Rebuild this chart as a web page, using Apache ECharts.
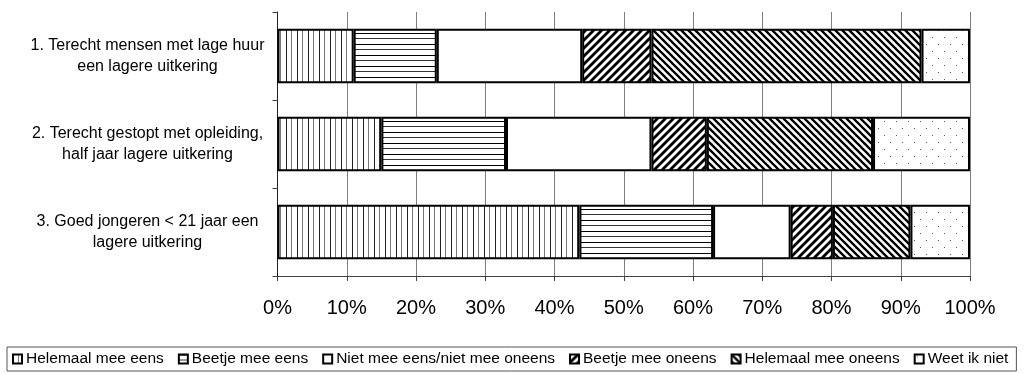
<!DOCTYPE html>
<html>
<head>
<meta charset="utf-8">
<script src="https://cdn.jsdelivr.net/npm/echarts@6/dist/echarts.min.js"></script>
<style>
    html, body {margin: 0; padding: 0; background: #fff;}
    #chart {width: 1029px; height: 374px;}
</style>
</head>
<body>
<div id="chart"></div>
<script>
'use strict';

var categories = [
    '1. Terecht mensen met lage huur\neen lagere uitkering',
    '2. Terecht gestopt met opleiding,\nhalf jaar lagere uitkering',
    '3. Goed jongeren < 21 jaar een\nlagere uitkering'
];
var seriesNames = ['Helemaal mee eens', 'Beetje mee eens', 'Niet mee eens/niet mee oneens',
    'Beetje mee oneens', 'Helemaal mee oneens', 'Weet ik niet'];
var helemaalEens = [11, 15, 43.6];
var beetjeEens = [12, 18, 19.3];
var neutraal = [21, 21, 11.2];
var beetjeOneens = [10, 8, 6.1];
var helemaalOneens = [39, 24, 11.2];
var weetNiet = [7, 14, 8.6];
var tickLabels = ['0%', '10%', '20%', '30%', '40%', '50%', '60%', '70%', '80%', '90%', '100%'];

// fill patterns, drawn on small canvases
function makePattern(kind) {
    var c = document.createElement('canvas');
    var ctx;
    var size = {vert: [11, 4], horiz: [4, 11], fwd: [8, 8], back: [7, 7], dots: [12, 14], blank: [4, 4]}[kind];
    c.width = size[0];
    c.height = size[1];
    ctx = c.getContext('2d');
    ctx.fillStyle = '#fff';
    ctx.fillRect(0, 0, c.width, c.height);
    ctx.strokeStyle = '#000';
    if (kind === 'vert') {
        ctx.fillStyle = '#222';
        ctx.fillRect(0, 0, 1, c.height);
        ctx.fillStyle = '#777';
        ctx.fillRect(5, 0, 1, c.height);
    } else if (kind === 'horiz') {
        ctx.fillStyle = '#000';
        ctx.fillRect(0, 0, c.width, 1);
        ctx.fillStyle = '#333';
        ctx.fillRect(0, 5, c.width, 1);
    } else if (kind === 'fwd' || kind === 'back') {
        var s = c.width;
        ctx.lineWidth = kind === 'fwd' ? 2.8 : 2.3;
        ctx.beginPath();
        if (kind === 'fwd') {
            ctx.moveTo(-1, 1); ctx.lineTo(1, -1);
            ctx.moveTo(0, s); ctx.lineTo(s, 0);
            ctx.moveTo(s - 1, s + 1); ctx.lineTo(s + 1, s - 1);
        } else {
            ctx.moveTo(-1, s - 1); ctx.lineTo(1, s + 1);
            ctx.moveTo(0, 0); ctx.lineTo(s, s);
            ctx.moveTo(s - 1, -1); ctx.lineTo(s + 1, 1);
        }
        ctx.stroke();
    } else if (kind === 'dots') {
        ctx.fillStyle = '#555';
        ctx.fillRect(2, 2, 1, 1);
        ctx.fillRect(8, 9, 1, 1);
    }
    return {image: c, repeat: 'repeat'};
}

var chart = echarts.init(document.getElementById('chart'), null, {renderer: 'canvas'});
var font = 'Liberation Sans, Arial, sans-serif';
var values = [helemaalEens, beetjeEens, neutraal, beetjeOneens, helemaalOneens, weetNiet];
var patterns = ['vert', 'horiz', 'blank', 'fwd', 'back', 'dots'];

var series = [];
for (var i = 0; i < seriesNames.length; i++) {
    series.push({
        name: seriesNames[i],
        type: 'bar',
        stack: 'total',
        barCategoryGap: '38%',
        data: values[i],
        itemStyle: {
            color: makePattern(patterns[i]),
            borderColor: '#000',
            borderWidth: 2
        }
    });
}

var option = {
    animation: false,
    backgroundColor: '#fff',
    textStyle: {fontFamily: font, color: '#000'},
    grid: {left: 277.5, right: 59, top: 12, bottom: 98, containLabel: false},
    legend: {
        data: seriesNames,
        top: 347,
        left: 7,
        icon: 'rect',
        itemWidth: 9,
        itemHeight: 9,
        itemGap: 14,
        padding: [4, 8, 4, 5],
        borderColor: '#555',
        borderWidth: 1,
        textStyle: {fontFamily: font, fontSize: 15.5, color: '#000', padding: [0, 0, 0, -1]}
    },
    xAxis: {
        type: 'value',
        min: 0,
        max: 100,
        interval: 10,
        axisLine: {show: true, lineStyle: {color: '#404040', width: 1}},
        axisTick: {show: true, length: 5, lineStyle: {color: '#404040'}},
        splitLine: {show: true, lineStyle: {color: '#808080', width: 1}},
        axisLabel: {
            margin: 22,
            fontSize: 20,
            fontFamily: font,
            color: '#000',
            formatter: function (v) {
                return tickLabels[Math.round(v / 10)];
            }
        }
    },
    yAxis: {
        type: 'category',
        inverse: true,
        data: categories,
        axisLine: {show: true, lineStyle: {color: '#202020', width: 1}},
        axisTick: {show: true, length: 5, lineStyle: {color: '#404040'}},
        splitLine: {show: false},
        axisLabel: {
            margin: 130,
            align: 'center',
            fontSize: 16,
            lineHeight: 21,
            fontFamily: font,
            color: '#000'
        }
    },
    series: series
};

chart.setOption(option);
</script>
</body>
</html>
